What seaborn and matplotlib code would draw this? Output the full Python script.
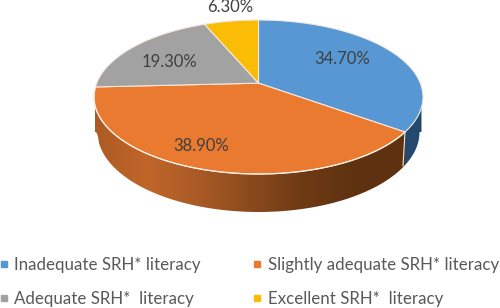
import numpy as np
import matplotlib
matplotlib.use("Agg")
import matplotlib.pyplot as plt
from matplotlib.colors import LinearSegmentedColormap
from matplotlib.lines import Line2D
from matplotlib.patches import PathPatch
from matplotlib.path import Path
import seaborn as sns

categories = ["Inadequate SRH* literacy", "Slightly adequate SRH* literacy",
              "Adequate SRH*  literacy", "Excellent SRH*  literacy"]
shares = [34.7, 38.9, 19.3, 6.3]
value_labels = ["34.70%", "38.90%", "19.30%", "6.30%"]

sns.set_theme(style="white")
plt.rcParams["font.family"] = ["Lato", "DejaVu Sans"]
palette = sns.color_palette(["#5797D3", "#E97A30", "#A2A2A2", "#FBBC05"])

fig = plt.figure(figsize=(5, 3.08), dpi=100)
ax = fig.add_axes([0, 0, 1, 1])

CX, CY, RX, RY = 258.5, 97.0, 164.5, 77.0
BX, BY, BRX, BRY = 258.5, 132.0, 161.0, 80.0
A = 0.18


def project(theta, cx=CX, cy=CY, rx=RX, ry=RY):
    x, y = np.cos(theta), np.sin(theta)
    d = 1 + A * y
    return cx + rx * x * np.sqrt(1 - A ** 2) / d, cy - ry * (y + A) / d


edges = np.cumsum([0] + shares) / sum(shares)
thetas = np.pi / 2 - 2 * np.pi * edges
apex = CX, CY - RY * A


def wall_patch(x0, x1):
    """Region between top and bottom rims, for x0..x1 along the front of the pie."""
    xs = np.linspace(x0, x1, 200)
    top = CY + RY * np.sqrt(np.clip(1 - ((xs - CX) / RX) ** 2, 0, 1))
    bot = BY + BRY * np.sqrt(np.clip(1 - ((xs - BX) / BRX) ** 2, 0, 1))
    verts = np.vstack([np.column_stack([xs, top]), np.column_stack([xs, bot])[::-1]])
    return PathPatch(Path(np.vstack([verts, verts[:1]])), fc="none", ec="none")


orange_wall = LinearSegmentedColormap.from_list(
    "w", ["#AC5A24", "#C0662A", "#A95A26", "#8A4A1C", "#6E3A14", "#5F3210", "#5E3210"])
bx = project(thetas[1])[0]

patch = wall_patch(CX - BRX - 3, bx)
ax.add_patch(patch)
im = ax.imshow(np.linspace(0, 1, 256)[None, :], cmap=orange_wall, aspect="auto",
               extent=[CX - BRX - 3, bx, 215, 90], zorder=1)
im.set_clip_path(patch)

blue_wall = wall_patch(bx, CX + BRX + 2)
blue_wall.set(fc="#234A6E", zorder=1)
ax.add_patch(blue_wall)

ax.set_xlim(0, 500)
ax.set_ylim(308, 0)
ax.axis("off")

for i, c in enumerate(palette):
    t = np.linspace(thetas[i], thetas[i + 1], 200)
    px, py = project(t)
    ax.fill(np.r_[apex[0], px], np.r_[apex[1], py], color=c, ec="#F4E9DD", lw=0.8,
            zorder=2, joinstyle="round")

# rim highlight between orange top and wall, and the wall seam
t = np.linspace(thetas[1], thetas[2], 200)
ax.plot(*project(t), color="#FBEFE3", lw=0.9, zorder=3)
ax.plot([bx, bx - 2], [project(thetas[1])[1], 166], color="#F1E6DA", lw=0.8, zorder=3)

label_xy = [(342, 59), (201, 146), (169, 62), (230, 7)]
for s, (x, y) in zip(value_labels, label_xy):
    ax.text(x, y, s, ha="center", va="center", fontsize=12, color="#404040", zorder=4)

handles = [Line2D([], [], marker="s", ls="", ms=4.2, color=c) for c in palette]
order = [0, 2, 1, 3]
ax.legend([handles[i] for i in order], [categories[i] for i in order], ncol=2,
          loc="upper left", bbox_to_anchor=(-0.004, 0.17), frameon=False, fontsize=12.2,
          labelcolor="#595959", labelspacing=1.02, columnspacing=3.06, handlelength=0.5,
          handletextpad=0.37, borderaxespad=0, borderpad=0.1)

fig.savefig("out.png", dpi=100, facecolor="white")
